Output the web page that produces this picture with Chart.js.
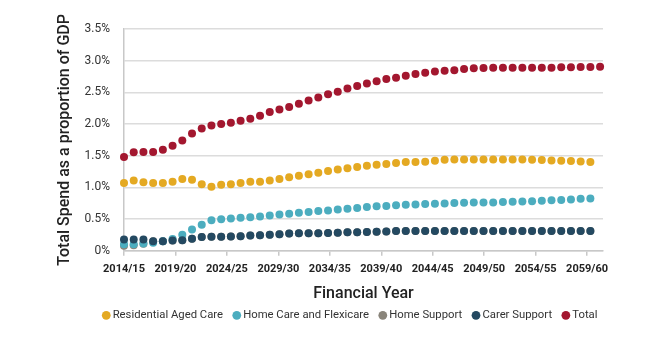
<!DOCTYPE html>
<html>
<head>
<meta charset="utf-8">
<script src="https://cdn.jsdelivr.net/npm/chart.js@4.4.1/dist/chart.umd.min.js"></script>
<style>
  html, body { margin: 0; background: #fff; }
  #wrap { width: 658px; height: 337px; }
</style>
</head>
<body>
<div id="wrap"><canvas id="spend"></canvas></div>
<script>
// financial years of the projection
const fiscalYears = [
  '2014/15', '2015/16', '2016/17', '2017/18', '2018/19', '2019/20', '2020/21', '2021/22', '2022/23', '2023/24',
  '2024/25', '2025/26', '2026/27', '2027/28', '2028/29', '2029/30', '2030/31', '2031/32', '2032/33', '2033/34',
  '2034/35', '2035/36', '2036/37', '2037/38', '2038/39', '2039/40', '2040/41', '2041/42', '2042/43', '2043/44',
  '2044/45', '2045/46', '2046/47', '2047/48', '2048/49', '2049/50', '2050/51', '2051/52', '2052/53', '2053/54',
  '2054/55', '2055/56', '2056/57', '2057/58', '2058/59', '2059/60', '2060/61', '2061/62', '2062/63', '2063/64'
];

// labels shown under the axis
const tickLabels = ['2014/15', '2019/20', '2024/25', '2029/30', '2034/35', '2039/40', '2044/45', '2049/50', '2054/55', '2059/60'];

// spend, % of GDP
const residentialCare = [
  1.07, 1.11, 1.08, 1.07, 1.07, 1.09, 1.13, 1.12, 1.05, 1.01,
  1.04, 1.05, 1.07, 1.09, 1.09, 1.11, 1.13, 1.16, 1.185, 1.205,
  1.23, 1.26, 1.28, 1.30, 1.32, 1.34, 1.355, 1.37, 1.385, 1.40,
  1.40, 1.405, 1.42, 1.435, 1.44, 1.44, 1.44, 1.44, 1.44, 1.44,
  1.44, 1.44, 1.435, 1.43, 1.425, 1.42, 1.415, 1.41, 1.40
];
const homeCare = [
  0.10, 0.10, 0.115, 0.125, 0.15, 0.185, 0.25, 0.335, 0.41, 0.48,
  0.495, 0.51, 0.52, 0.53, 0.54, 0.555, 0.57, 0.585, 0.60, 0.61,
  0.625, 0.636, 0.65, 0.662, 0.673, 0.689, 0.70, 0.706, 0.716, 0.725,
  0.73, 0.736, 0.741, 0.746, 0.752, 0.757, 0.762, 0.762, 0.762, 0.767,
  0.772, 0.777, 0.782, 0.788, 0.795, 0.80, 0.81, 0.82, 0.825
];
const homeSupport = [
  0.08, 0.085, 0.11, 0.15, 0.15, 0.16, 0.165, 0.19, 0.215, 0.22,
  0.22, 0.225, 0.23, 0.24, 0.245, 0.25, 0.26, 0.27, 0.275, 0.275,
  0.275, 0.28, 0.285, 0.29, 0.29, 0.295, 0.30, 0.305, 0.31, 0.31,
  0.31, 0.31, 0.31, 0.31, 0.31, 0.31, 0.31, 0.31, 0.31, 0.31,
  0.31, 0.31, 0.31, 0.31, 0.31, 0.31, 0.31, 0.31, 0.31
];
const carerSupport = [
  0.175, 0.175, 0.175, 0.15, 0.15, 0.16, 0.165, 0.19, 0.215, 0.22,
  0.22, 0.225, 0.23, 0.24, 0.245, 0.25, 0.26, 0.27, 0.275, 0.275,
  0.275, 0.28, 0.285, 0.29, 0.29, 0.295, 0.30, 0.305, 0.31, 0.31,
  0.31, 0.31, 0.31, 0.31, 0.31, 0.31, 0.31, 0.31, 0.31, 0.31,
  0.31, 0.31, 0.31, 0.31, 0.31, 0.31, 0.31, 0.31, 0.31
];
const total = [
  1.48, 1.555, 1.56, 1.56, 1.595, 1.655, 1.74, 1.85, 1.93, 1.975,
  2.0, 2.02, 2.05, 2.085, 2.13, 2.19, 2.23, 2.27, 2.32, 2.37,
  2.42, 2.47, 2.51, 2.56, 2.60, 2.64, 2.675, 2.71, 2.73, 2.76,
  2.79, 2.81, 2.83, 2.84, 2.85, 2.87, 2.88, 2.885, 2.89, 2.89,
  2.89, 2.89, 2.89, 2.89, 2.89, 2.895, 2.895, 2.90, 2.90, 2.905
];

Chart.defaults.font.family = 'Roboto, "Open Sans", sans-serif';
Chart.defaults.color = '#333';

// lower order = drawn on top
function dotSeries(label, data, color, order) {
  return {
    label,
    data,
    order,
    showLine: false,
    clip: false,
    backgroundColor: color,
    borderColor: color,
    borderWidth: 0,
    pointRadius: 4,
    pointHoverRadius: 4,
    pointBorderWidth: 0,
    pointBackgroundColor: color
  };
}

// centre the legend row under the plot rather than the canvas
const legendNudge = {
  id: 'legendNudge',
  afterLayout(chart) {
    const shift = 24;
    chart.legend.left += shift;
    chart.legend.right += shift;
  }
};

new Chart(document.getElementById('spend'), {
  type: 'line',
  data: {
    labels: fiscalYears.map(fy => parseInt(fy, 10)),
    datasets: [
      dotSeries('Residential Aged Care', residentialCare, '#e4a922', 3),
      dotSeries('Home Care and Flexicare', homeCare, '#4cadbf', 1),
      dotSeries('Home Support', homeSupport, '#8a857b', 2),
      dotSeries('Carer Support', carerSupport, '#244961', 0),
      dotSeries('Total', total, '#a3172f', 4)
    ]
  },
  plugins: [legendNudge],
  options: {
    responsive: true,
    maintainAspectRatio: false,
    animation: false,
    layout: { padding: { left: 52, right: 55, top: 29, bottom: 6 } },
    plugins: {
      tooltip: { enabled: false },
      legend: {
        position: 'bottom',
        labels: {
          usePointStyle: true,
          pointStyle: 'circle',
          boxWidth: 1.5,
          boxHeight: 6.2,
          padding: 13,
          color: '#333',
          font: { size: 11.3 },
          sort: (a, b) => a.datasetIndex - b.datasetIndex
        }
      }
    },
    scales: {
      // positions the yearly points
      x: {
        type: 'linear',
        display: false,
        min: 2014,
        max: 2063.3
      },
      // five-yearly labels
      xYears: {
        type: 'linear',
        position: 'bottom',
        min: 2014,
        max: 2060.55,
        afterBuildTicks: scale => {
          scale.ticks = tickLabels.map(t => ({ value: parseInt(t, 10) }));
        },
        afterFit: scale => { scale.height = 46; },
        border: { display: true, color: '#c8c8c8', width: 1.5 },
        grid: { drawOnChartArea: false, drawTicks: true, tickLength: 5, color: '#c8c8c8', lineWidth: 1.5 },
        ticks: {
          autoSkip: false,
          maxRotation: 0,
          padding: 7,
          color: '#222',
          font: { size: 11, weight: 'bold' },
          callback: (v, i) => tickLabels[i]
        },
        title: {
          display: true,
          text: 'Financial Year',
          color: '#222',
          font: { size: 16, weight: '500' },
          padding: { top: 0, bottom: -7 }
        }
      },
      y: {
        min: 0,
        max: 3.5,
        afterFit: scale => { scale.width = 72; },
        border: { display: true, color: '#c8c8c8', width: 1.5 },
        grid: { color: '#dcdcdc', lineWidth: 1.5, drawTicks: false },
        ticks: {
          stepSize: 0.5,
          padding: 14,
          color: '#333',
          font: { size: 12 },
          callback: v => (v === 0 ? '0%' : v.toFixed(1) + '%')
        },
        title: {
          display: true,
          text: 'Total Spend as a proportion of GDP',
          color: '#222',
          font: { size: 16, weight: '500' },
          padding: { top: 3, bottom: 0 }
        }
      }
    }
  }
});
</script>
</body>
</html>
